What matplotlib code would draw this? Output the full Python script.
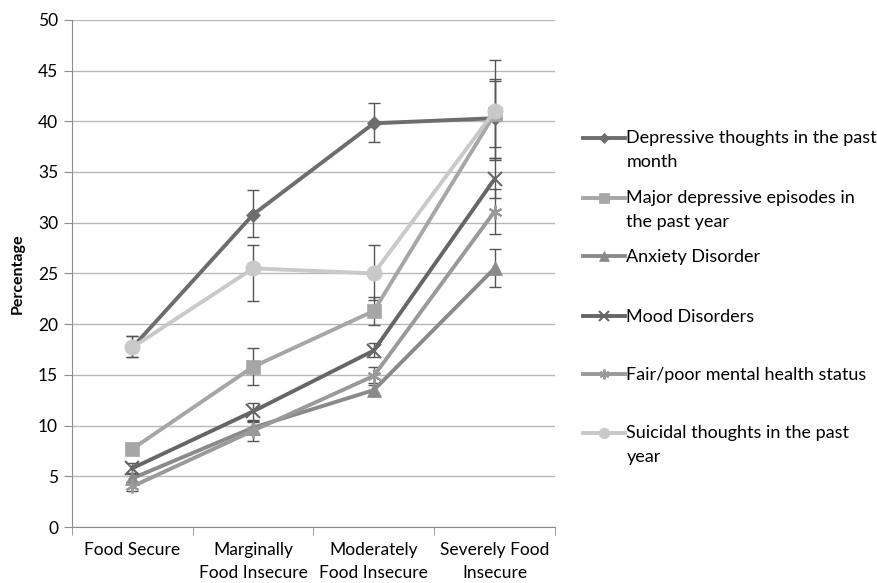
import matplotlib.pyplot as plt
import numpy as np
from matplotlib.legend_handler import HandlerLine2D

plt.rcParams["font.family"] = ["Lato", "DejaVu Sans"]

categories = ["Food Secure", "Marginally\nFood Insecure", "Moderately\nFood Insecure", "Severely Food\nInsecure"]

series_names = [
    "Depressive thoughts in the past\nmonth",
    "Major depressive episodes in\nthe past year",
    "Anxiety Disorder",
    "Mood Disorders",
    "Fair/poor mental health status",
    "Suicidal thoughts in the past\nyear",
]

depressive = [17.7, 30.8, 39.8, 40.3]
depressive_lo = [16.8, 28.6, 38.0, 36.4]
depressive_hi = [18.8, 33.2, 41.8, 44.2]

major = [7.7, 15.8, 21.3, 40.7]
major_lo = [7.2, 14.0, 19.9, 37.5]
major_hi = [8.2, 17.6, 22.7, 44.0]

anxiety = [4.8, 9.8, 13.5, 25.5]
anxiety_lo = [4.4, 9.2, 13.0, 23.7]
anxiety_hi = [5.2, 10.4, 14.0, 27.4]

mood = [5.8, 11.4, 17.4, 34.3]
mood_lo = [5.3, 10.6, 16.8, 32.4]
mood_hi = [6.3, 12.2, 18.1, 36.4]

fairpoor = [4.0, 9.5, 14.9, 31.1]
fairpoor_lo = [3.6, 8.5, 14.2, 28.9]
fairpoor_hi = [4.4, 10.5, 15.8, 33.3]

suicidal = [17.7, 25.5, 25.0, 41.0]
suicidal_lo = [16.8, 22.3, 22.4, 36.2]
suicidal_hi = [18.8, 27.8, 27.8, 46.0]

values = [depressive, major, anxiety, mood, fairpoor, suicidal]
lows = [depressive_lo, major_lo, anxiety_lo, mood_lo, fairpoor_lo, suicidal_lo]
highs = [depressive_hi, major_hi, anxiety_hi, mood_hi, fairpoor_hi, suicidal_hi]

colors = ["#6d6d6d", "#a6a6a6", "#8a8a8a", "#666666", "#9a9a9a", "#c9c9c9"]
markers = ["D", "s", "^", "x", (6, 2, 0), "o"]
msizes = [7, 10, 10, 10, 10, 11]

# legend entry centres, in pixels from the top
legend_y = [150, 210, 257, 317, 375, 445]


class LiftedLine(HandlerLine2D):
    # moves the legend line up by lift * fontsize / 2 points
    def __init__(self, lift=0.0, **kw):
        super().__init__(**kw)
        self.lift = lift

    def create_artists(self, legend, orig_handle, xdescent, ydescent, width, height, fontsize, trans):
        return super().create_artists(legend, orig_handle, xdescent, ydescent - self.lift * fontsize,
                                      width, height, fontsize, trans)


fig = plt.figure(figsize=(8.78, 5.83), dpi=100)
ax = fig.add_axes([0.082, 0.096, 0.55, 0.87])

x = np.arange(len(categories))
handles = []
for vals, lo, hi, name, c, m, ms in zip(values, lows, highs, series_names, colors, markers, msizes):
    vals = np.array(vals)
    yerr = [vals - np.array(lo), np.array(hi) - vals]
    ax.errorbar(x, vals, yerr=yerr, fmt="none", ecolor="#555555", elinewidth=1.0, capsize=4, capthick=1.0, zorder=2)
    h, = ax.plot(x, vals, color=c, linewidth=2.8, marker=m, markersize=ms,
                 markeredgewidth=1.5 if m in ("x", (6, 2, 0)) else 0.5,
                 markeredgecolor=c, label=name, zorder=3)
    handles.append(h)

ax.set_xlim(-0.5, 3.5)
ax.set_ylim(0, 50)
ax.set_yticks(range(0, 51, 5))
ax.set_xticks(x)
ax.set_xticklabels(categories, fontsize=12.5, linespacing=1.5)
ax.set_xticks(np.arange(-0.5, 3.6, 1), minor=True)
ax.tick_params(axis="x", which="major", length=0, pad=11)
ax.tick_params(axis="x", which="minor", length=6, color="#8c8c8c")
ax.tick_params(axis="y", length=6, color="#8c8c8c", labelsize=12.5, pad=4)
ax.yaxis.grid(True, color="#b8b8b8", linewidth=1.0)
ax.set_axisbelow(True)
for s in ["top", "right"]:
    ax.spines[s].set_visible(False)
for s in ["left", "bottom"]:
    ax.spines[s].set_color("#8c8c8c")
ax.set_ylabel("Percentage", fontsize=11.5, fontweight="bold")
ax.yaxis.set_label_coords(-0.097, 0.5)

for h, name, yp in zip(handles, series_names, legend_y):
    # two-line entries: lift the handle to the first line
    lift = 1.38 if "\n" in name else 0.0
    leg = fig.legend([h], [name], loc="center left", bbox_to_anchor=(583 / 878, 1 - yp / 583),
                     frameon=False, fontsize=13, handlelength=2.3, handletextpad=0.1,
                     borderpad=0, borderaxespad=0, markerscale=0.7,
                     handler_map={h: LiftedLine(lift=lift)})
    for t in leg.get_texts():
        t.set_linespacing(1.55)

fig.savefig("out.png", dpi=100)
